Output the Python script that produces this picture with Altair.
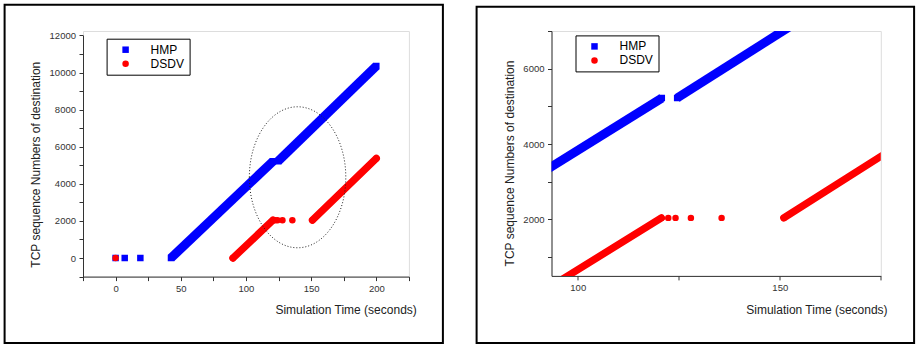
import altair as alt
import pandas as pd

FONT = "Liberation Sans"

series_names = ["HMP", "DSDV"]
series_colors = ["#0000ff", "#ff0000"]
series_shapes = ["square", "circle"]

# HMP: isolated points + two dense (thick) segments
hmp_point_x = [0, 7, 19]
hmp_point_y = [0, 0, 0]
hmp_seg_id = [1, 1, 2, 2]
hmp_seg_x = [42.5, 120.8, 124.6, 200]
hmp_seg_y = [0, 5220, 5220, 10350]

# DSDV: isolated points + two dense segments
dsdv_point_x = [0, 122.4, 124.2, 128.0, 135.6]
dsdv_point_y = [0, 2040, 2040, 2040, 2040]
dsdv_seg_id = [1, 1, 2, 2]
dsdv_seg_x = [90, 120.7, 151, 200]
dsdv_seg_y = [0, 2040, 2040, 5370]

# dotted ellipse highlight (left panel)
ellipse_x = [139.6]
ellipse_y = [4353]

seg_df = pd.concat([
    pd.DataFrame({"series": "HMP", "seg": hmp_seg_id, "x": hmp_seg_x, "y": hmp_seg_y}),
    pd.DataFrame({"series": "DSDV", "seg": dsdv_seg_id, "x": dsdv_seg_x, "y": dsdv_seg_y}),
], ignore_index=True)

pts_df = pd.concat([
    pd.DataFrame({"series": "HMP", "x": hmp_point_x, "y": hmp_point_y}),
    pd.DataFrame({"series": "HMP", "x": hmp_seg_x, "y": hmp_seg_y}),
    pd.DataFrame({"series": "DSDV", "x": dsdv_point_x, "y": dsdv_point_y}),
    pd.DataFrame({"series": "DSDV", "x": dsdv_seg_x, "y": dsdv_seg_y}),
], ignore_index=True)

ell_df = pd.DataFrame({"x": ellipse_x, "y": ellipse_y})
one_row = pd.DataFrame({"a": [0]})

ELLIPSE_PATH = "M -0.684 0 A 0.684 1 0 1 1 0.684 0 A 0.684 1 0 1 1 -0.684 0 Z"


def panel(xdom, ydom, xticks, yticks, w, h, yrange, frame, leg, xt, yt, ellipse):
    xaxis = alt.Axis(
        values=xticks, format="d",
        labelExpr="datum.value % 50 === 0 ? datum.label : ''",
        labelOverlap=False, labelFlush=False,
        tickSize=4, labelPadding=3, labelFontSize=9.5, labelFont=FONT,
        labelColor="#333333", domainColor="#333333", tickColor="#333333",
        grid=False, title="Simulation Time (seconds)", titleFont=FONT,
        titleFontSize=12, titleFontWeight="normal", titleColor="#222222",
        titleX=xt[0], titleY=xt[1], titleAlign="right", titleBaseline="alphabetic",
    )
    yaxis = alt.Axis(
        values=yticks, format="d",
        labelExpr="datum.value % 2000 === 0 ? datum.label : ''",
        labelOverlap=False, labelFlush=False,
        tickSize=4, labelPadding=3.5, labelFontSize=9.5, labelFont=FONT,
        labelColor="#333333", domainColor="#333333", tickColor="#333333",
        grid=False, title="TCP sequence Numbers of destination", titleFont=FONT,
        titleFontSize=12, titleFontWeight="normal", titleColor="#222222",
        titleX=yt[0], titleY=yt[1], titleAngle=-90, titleAlign="center",
        titleBaseline="middle",
    )
    X = alt.X("x:Q", scale=alt.Scale(domain=xdom, nice=False, zero=False), axis=xaxis)
    Y = alt.Y("y:Q", scale=alt.Scale(domain=ydom, range=yrange, nice=False, zero=False), axis=yaxis)

    layers = []
    layers.append(
        alt.Chart(one_row).mark_rect(filled=False, stroke="black", strokeWidth=2).encode(
            x=alt.value(frame[0]), x2=alt.value(frame[1]),
            y=alt.value(frame[2]), y2=alt.value(frame[3]))
    )
    layers.append(
        alt.Chart(seg_df).transform_filter(alt.datum.series == "HMP")
        .mark_line(color=series_colors[0], strokeWidth=9, strokeCap="butt", clip=True)
        .encode(x=X, y=Y, detail="seg:N")
    )
    layers.append(
        alt.Chart(seg_df).transform_filter(alt.datum.series == "DSDV")
        .mark_line(color=series_colors[1], strokeWidth=7.3, strokeCap="round", clip=True)
        .encode(x=X, y=Y, detail="seg:N")
    )
    legend = alt.Legend(
        orient="none", legendX=leg[0], legendY=leg[1], title=None,
        padding=5, strokeColor="black", fillColor="white",
        symbolSize=42, symbolOffset=8, symbolStrokeWidth=0,
        labelOffset=19, labelFontSize=12, labelFont=FONT, labelColor="black",
        rowPadding=2,
    )
    layers.append(
        alt.Chart(pts_df).mark_point(filled=True, opacity=1, size=42, strokeWidth=0, clip=True)
        .encode(
            x=X, y=Y,
            color=alt.Color("series:N", scale=alt.Scale(domain=series_names, range=series_colors),
                            legend=legend, sort=series_names),
            shape=alt.Shape("series:N", scale=alt.Scale(domain=series_names, range=series_shapes),
                            legend=legend, sort=series_names),
        )
    )
    if ellipse:
        layers.append(
            alt.Chart(ell_df).mark_point(
                shape=ELLIPSE_PATH, size=19881, filled=False, stroke="#222222",
                strokeWidth=1, strokeDash=[1, 2], opacity=1)
            .encode(x=X, y=Y)
        )
    return alt.layer(*layers).properties(width=w, height=h)


# both panels share the same row origin (y = 31.3 px on the page)
left = panel(
    xdom=[-25, 225], ydom=[-1000, 12000],
    xticks=[-25, 0, 25, 50, 75, 100, 125, 150, 175, 200, 225],
    yticks=list(range(-1000, 12001, 1000)),
    w=325.9, h=245.6, yrange=[245.6, 4.4],
    frame=(-78.4, 359.9, -26.3, 312.0),
    leg=(23.6, 7.7), xt=(333.3, 36.4), yt=(-47.4, 133.2), ellipse=True,
)

right = panel(
    xdom=[93.5, 175], ydom=[500, 7000],
    xticks=[100, 125, 150, 175],
    yticks=list(range(1000, 7001, 1000)),
    w=329.3, h=244.9, yrange=[244.9, 0],
    frame=(-74.9, 362.6, -24.3, 312.0),
    leg=(24, 4.4), xt=(335.6, 37.1), yt=(-42.4, 132), ellipse=False,
)

chart = (
    alt.hconcat(left, right, spacing=29.5)
    .resolve_scale(color="independent", shape="independent")
    .properties(padding={"left": 3, "top": 3, "right": 0, "bottom": 0}, background="white")
    .configure_view(strokeWidth=0)
    .configure(font=FONT)
)

chart.save("out.html", embed_options={"renderer": "svg", "actions": False})
